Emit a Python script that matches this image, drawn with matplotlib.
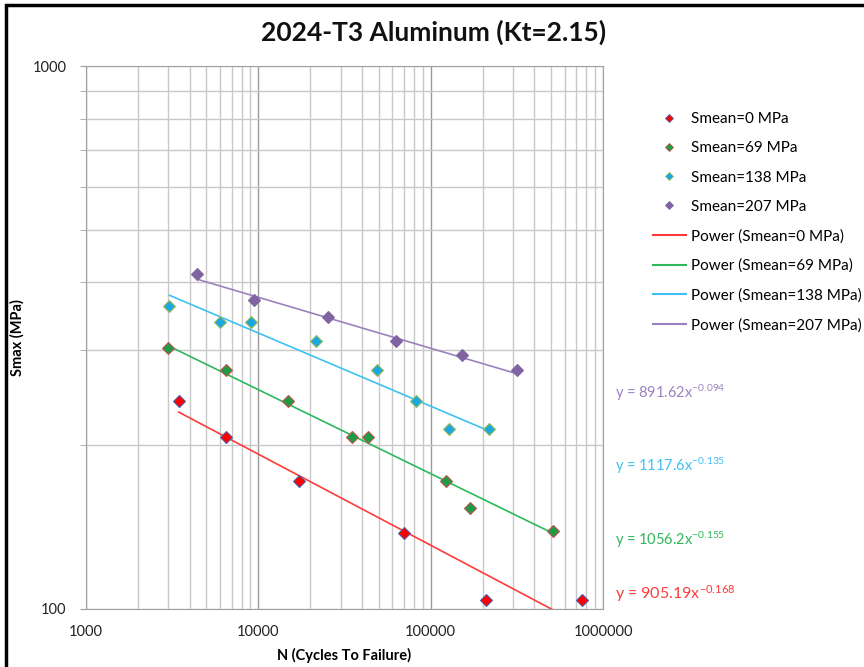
import numpy as np
import matplotlib
matplotlib.use("Agg")
import matplotlib.pyplot as plt
from matplotlib.lines import Line2D
from matplotlib.patches import Rectangle

plt.rcParams['font.family'] = ['Lato', 'DejaVu Sans']
plt.rcParams['mathtext.default'] = 'regular'

# data (N cycles, Smax MPa)
n_0 = [3450, 6480, 17300, 69600, 209000, 756000]
s_0 = [241, 207, 172, 138, 103.5, 103.5]

n_69 = [2980, 6480, 14800, 34900, 43000, 123000, 170000, 510000]
s_69 = [303, 276, 241, 207, 207, 172, 153, 139]

n_138 = [3050, 6000, 9080, 21500, 48500, 81700, 128000, 217000]
s_138 = [362, 338, 338, 311, 276, 241, 214, 214]

n_207 = [4400, 9420, 25400, 62900, 153000, 317000]
s_207 = [414, 371, 345, 311, 293, 276]

labels = ['Smean=0 MPa', 'Smean=69 MPa', 'Smean=138 MPa', 'Smean=207 MPa']

# power trendlines y = a * x^b
coef_a = [905.19, 1056.2, 1117.6, 891.62]
coef_b = [-0.168, -0.155, -0.135, -0.094]

x_ticks = [1000, 10000, 100000, 1000000]

face_cols = ['#FF0000', '#1E9B45', '#1BA8E0', '#8064A2']
edge_cols = ['#4F5FA8', '#C0504D', '#9BBB59', '#8064A2']
line_cols = ['#FF3B3B', '#2EB85A', '#3EC1F2', '#9B82BE']

fig = plt.figure(figsize=(8.64, 6.67), dpi=100)
ax = fig.add_axes([86/864, 1-608.5/667, (603-86)/864, (608.5-66.5)/667])

series = [(n_0, s_0), (n_69, s_69), (n_138, s_138), (n_207, s_207)]

for i, (n, s) in enumerate(series):
    xx = np.geomspace(min(n), max(n), 100)
    ax.plot(xx, coef_a[i]*xx**coef_b[i], color=line_cols[i], lw=1.2, zorder=2)
for i, (n, s) in enumerate(series):
    ax.plot(n, s, ls='none', marker='D', ms=6.5, mfc=face_cols[i],
            mec=edge_cols[i], mew=0.8, zorder=3)

ax.set_xscale('log')
ax.set_yscale('log')
ax.set_xlim(1000, 1000000)
ax.set_ylim(100, 1000)
ax.set_xticks(x_ticks)
ax.set_xticklabels([str(t) for t in x_ticks])
ax.set_yticks([100, 1000])
ax.set_yticklabels(['100', '1000'])
ax.set_yticks(np.arange(200, 1000, 100), minor=True)
ax.yaxis.set_minor_formatter(plt.NullFormatter())
ax.xaxis.set_minor_formatter(plt.NullFormatter())

ax.grid(True, which='minor', color='#C8C8C8', lw=1.0)
ax.grid(True, which='major', axis='y', color='#C8C8C8', lw=1.0)
ax.grid(True, which='major', axis='x', color='#9A9A9A', lw=1.0)
ax.tick_params(axis='x', which='both', length=0, pad=12, labelsize=10.5, colors='#222222')
ax.tick_params(axis='y', which='both', length=4, color='#A0A0A0', pad=10, labelsize=10.5, labelcolor='#222222')
for sp in ax.spines.values():
    sp.set_color('#A0A0A0')

ax.set_xlabel('N (Cycles To Failure)', fontsize=10.5, fontweight='bold', labelpad=6)
ax.set_ylabel('Smax (MPa)', fontsize=10.5, fontweight='bold')
ax.yaxis.set_label_coords((25-86)/517, 0.5)

fig.text(434/864, 1-32/667, '2024-T3 Aluminum (Kt=2.15)', ha='center', va='center',
         fontsize=19, fontweight='bold', color='#111111')

# legend
handles = []
for i in range(4):
    handles.append(Line2D([], [], ls='none', marker='D', ms=4.2, mfc=face_cols[i],
                          mec=edge_cols[i], mew=0.6))
for i in range(4):
    handles.append(Line2D([], [], color=line_cols[i], lw=1.5))
leg_labels = labels + ['Power (' + l + ')' for l in labels]
fig.legend(handles, leg_labels, loc='upper left', bbox_to_anchor=(653/864, 1-112/667),
           frameon=False, fontsize=11, handlelength=2.15, handletextpad=0.35,
           labelspacing=1.0, borderaxespad=0, borderpad=0)

# trendline equations
eq_y = [594, 540, 466, 393]
eq_size = [11.5, 10.5, 10.5, 10.5]
for i in range(4):
    txt = 'y = %gx$^{%.3f}$' % (coef_a[i], coef_b[i])
    fig.text(615/864, 1-eq_y[i]/667, txt, ha='left', va='center',
             fontsize=eq_size[i], color=line_cols[i])

# outer frame
fig.patches.append(Rectangle((6/864, -0.1), 1.2, 1-5/667+0.1, transform=fig.transFigure,
                             fill=False, ec='black', lw=2.5, clip_on=False))

fig.savefig('out.png', dpi=100)
